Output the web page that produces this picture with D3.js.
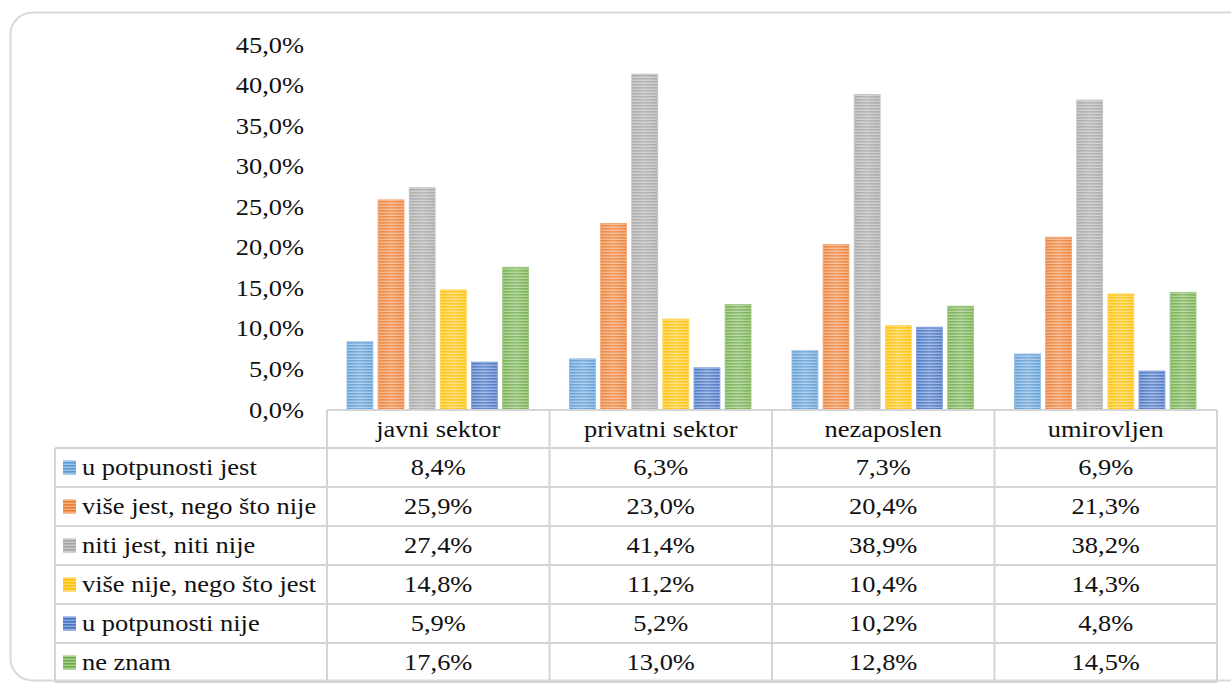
<!DOCTYPE html>
<html>
<head>
<meta charset="utf-8">
<script src="https://cdn.jsdelivr.net/npm/d3@7"></script>
</head>
<body style="margin:0;background:#fff">
<svg id="fig" width="1231" height="687" style="display:block"></svg>
<script>
// Categories (columns) and response options (series)
const categories = ["javni sektor", "privatni sektor", "nezaposlen", "umirovljen"];
const seriesNames = [
  "u potpunosti jest",
  "više jest, nego što nije",
  "niti jest, niti nije",
  "više nije, nego što jest",
  "u potpunosti nije",
  "ne znam"
];
const seriesColors = ["#5B9BD5", "#ED7D31", "#A5A5A5", "#FFC000", "#4472C4", "#70AD47"];

// Percent values per series, in category order
const uPotpunostiJest = [8.4, 6.3, 7.3, 6.9];
const viseJest       = [25.9, 23.0, 20.4, 21.3];
const nitiJest       = [27.4, 41.4, 38.9, 38.2];
const viseNije       = [14.8, 11.2, 10.4, 14.3];
const uPotpunostiNije= [5.9, 5.2, 10.2, 4.8];
const neZnam         = [17.6, 13.0, 12.8, 14.5];
const seriesValues = [uPotpunostiJest, viseJest, nitiJest, viseNije, uPotpunostiNije, neZnam];

const yTicks = [0, 5, 10, 15, 20, 25, 30, 35, 40, 45];

// Text is set in a slightly widened serif face
const FS = 23;
const STRETCH = 1.15;
const fmt = v => v.toFixed(1).replace(".", ",") + "%";
function styleText(sel) {
  sel.style("font-family", '"Liberation Serif"', "important")
     .attr("font-size", FS)
     .attr("fill", "#111");
}
function placeText(sel, x, y) {
  sel.attr("x", 0).attr("y", 0)
     .attr("transform", `translate(${x},${y}) scale(${STRETCH},1)`);
}

const svg = d3.select("#fig");

// Outer frame
svg.append("rect")
  .attr("x", 10.5).attr("y", 12.5)
  .attr("width", 1240).attr("height", 668)
  .attr("rx", 22).attr("ry", 22)
  .attr("fill", "none").attr("stroke", "#d9d9d9").attr("stroke-width", 2);

// Striped fills for the bars and legend keys
const defs = svg.append("defs");
seriesColors.forEach((c, i) => {
  const p = defs.append("pattern")
    .attr("id", "stripe" + i)
    .attr("patternUnits", "userSpaceOnUse")
    .attr("width", 8).attr("height", 3);
  p.append("rect").attr("width", 8).attr("height", 3).attr("fill", c);
  p.append("rect").attr("y", 1.6).attr("width", 8).attr("height", 1.4)
    .attr("fill", d3.interpolateRgb(c, "#ffffff")(0.4));
});
const sheen = defs.append("linearGradient").attr("id", "sheen")
  .attr("x1", "0").attr("x2", "1").attr("y1", "0").attr("y2", "0");
sheen.append("stop").attr("offset", "0").attr("stop-color", "#fff").attr("stop-opacity", 0.05);
sheen.append("stop").attr("offset", "0.5").attr("stop-color", "#fff").attr("stop-opacity", 0.22);
sheen.append("stop").attr("offset", "1").attr("stop-color", "#fff").attr("stop-opacity", 0.05);

// Layout
const plotLeft = 327, plotRight = 1217;
const plotTop = 45, plotBottom = 410;
const tableLeft = 55;
const headerH = 38, rowH = 39;

const x0 = d3.scaleBand().domain(categories).range([plotLeft, plotRight]).paddingInner(0).paddingOuter(0);
const x1 = d3.scaleBand().domain(d3.range(seriesNames.length))
  .range([20, x0.bandwidth() - 21]).paddingInner(0.17).paddingOuter(0);
const y = d3.scaleLinear().domain([0, 45]).range([plotBottom, plotTop]);

// Y axis: let d3 build the labels, then lift them to the top level of the svg
const yAxis = d3.axisLeft(y).tickValues(yTicks)
  .tickFormat(d => d.toFixed(1).replace(".", ",") + "%").tickSize(0).tickPadding(0);
const yg = svg.append("g").call(yAxis);
yg.select(".domain").remove();
yg.selectAll(".tick text").each(function(d) {
  const t = d3.select(this);
  svg.node().appendChild(this);
  t.call(placeText, 304, y(d)).attr("dy", "0.33em").attr("text-anchor", "end").call(styleText);
});

// Bars
const groups = svg.append("g").selectAll("g")
  .data(categories)
  .join("g")
  .attr("transform", d => `translate(${x0(d)},0)`);

groups.each(function(cat, ci) {
  const g = d3.select(this);
  seriesValues.forEach((vals, si) => {
    const v = vals[ci];
    const bx = x1(si), bw = x1.bandwidth();
    g.append("rect").attr("x", bx).attr("y", y(v)).attr("width", bw).attr("height", y(0) - y(v))
      .attr("fill", `url(#stripe${si})`);
    g.append("rect").attr("x", bx).attr("y", y(v)).attr("width", bw).attr("height", y(0) - y(v))
      .attr("fill", "url(#sheen)")
      .attr("stroke", d3.interpolateRgb(seriesColors[si], "#ffffff")(0.35)).attr("stroke-width", 1);
  });
});

// Data table grid
const lineColor = "#d4d4d4";
const tableBottom = plotBottom + headerH + rowH * seriesNames.length;
const hLine = (x1v, x2v, yy) => svg.append("line").attr("x1", x1v).attr("x2", x2v).attr("y1", yy).attr("y2", yy)
  .attr("stroke", lineColor).attr("stroke-width", 2);
const vLine = (xx, y1v, y2v) => svg.append("line").attr("x1", xx).attr("x2", xx).attr("y1", y1v).attr("y2", y2v)
  .attr("stroke", lineColor).attr("stroke-width", 2);

hLine(plotLeft, plotRight, plotBottom);
d3.range(seriesNames.length + 1).forEach(i => hLine(tableLeft, plotRight, plotBottom + headerH + i * rowH));
vLine(tableLeft, plotBottom + headerH, tableBottom);
categories.forEach(c => vLine(x0(c), plotBottom, tableBottom));
vLine(plotRight, plotBottom, tableBottom);

// Column headers
categories.forEach(c => {
  svg.append("text")
    .call(placeText, x0(c) + x0.bandwidth() / 2, plotBottom + headerH / 2)
    .attr("dy", "0.33em")
    .attr("text-anchor", "middle")
    .call(styleText)
    .text(c);
});

// Rows: legend key, series name, values
seriesNames.forEach((name, si) => {
  const cy = plotBottom + headerH + si * rowH + rowH / 2;
  svg.append("rect").attr("x", 63).attr("y", cy - 7).attr("width", 13).attr("height", 14)
    .attr("fill", `url(#stripe${si})`);
  svg.append("text")
    .call(placeText, 82, cy)
    .attr("dy", "0.33em")
    .call(styleText)
    .text(name);
  categories.forEach((c, ci) => {
    svg.append("text")
      .call(placeText, x0(c) + x0.bandwidth() / 2, cy)
      .attr("dy", "0.33em")
      .attr("text-anchor", "middle")
      .call(styleText)
      .text(fmt(seriesValues[si][ci]));
  });
});
</script>
</body>
</html>
